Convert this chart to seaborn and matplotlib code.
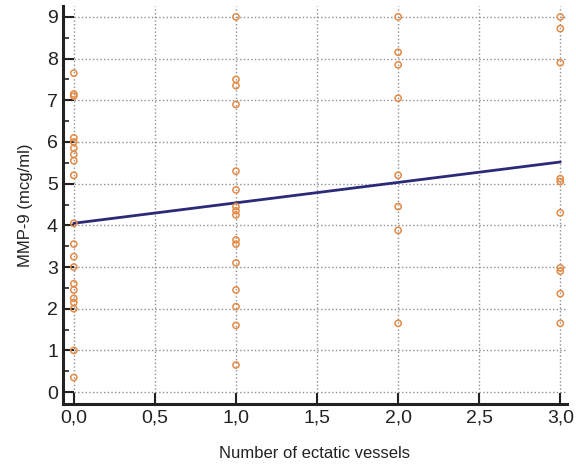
import matplotlib
matplotlib.use("Agg")
import matplotlib.pyplot as plt
import seaborn as sns
import pandas as pd
from matplotlib.ticker import MultipleLocator, FuncFormatter

# MMP-9 readings per number of ectatic vessels
mmp9_v0 = [7.65, 7.15, 7.1, 6.1, 6.0, 5.85, 5.7, 5.55, 5.2, 4.05, 3.55, 3.25,
           3.0, 2.6, 2.45, 2.25, 2.15, 2.0, 1.0, 0.35]
mmp9_v1 = [9.0, 7.5, 7.35, 6.9, 5.3, 4.85, 4.45, 4.35, 4.25, 3.65, 3.55, 3.1,
           2.45, 2.05, 1.6, 0.65]
mmp9_v2 = [9.0, 8.15, 7.85, 7.05, 5.2, 4.45, 3.88, 1.65]
mmp9_v3 = [9.0, 8.72, 7.9, 5.12, 5.05, 4.3, 2.98, 2.9, 2.36, 1.65]

# regression line end points
fit_x = [0.0, 3.0]
fit_y = [4.05, 5.52]

vessels = [0] * len(mmp9_v0) + [1] * len(mmp9_v1) + [2] * len(mmp9_v2) + [3] * len(mmp9_v3)
df = pd.DataFrame({"vessels": vessels, "mmp9": mmp9_v0 + mmp9_v1 + mmp9_v2 + mmp9_v3})
fit = pd.DataFrame({"x": fit_x, "y": fit_y})

sns.set_theme(style="ticks")
plt.rcParams["font.family"] = ["Liberation Sans", "DejaVu Sans"]

fig = plt.figure(figsize=(5.76, 4.70), dpi=100)
ax = fig.add_axes([0.109, 0.140, 0.875, 0.848])

ax.grid(True, which="major", color="#8c8f96", linestyle=":", linewidth=1.0)
ax.set_axisbelow(True)

sns.lineplot(data=fit, x="x", y="y", color="#2a2a78", linewidth=2.0, ax=ax, zorder=3)
sns.scatterplot(data=df, x="vessels", y="mmp9", marker="o", s=20,
                facecolor="none", edgecolor="#e58a45", linewidth=1.1, ax=ax, zorder=4)

ax.set_xlim(-0.068, 3.04)
ax.set_ylim(-0.29, 9.27)
ax.xaxis.set_major_locator(MultipleLocator(0.5))
ax.yaxis.set_major_locator(MultipleLocator(1))
ax.yaxis.set_minor_locator(MultipleLocator(0.5))
ax.xaxis.set_major_formatter(FuncFormatter(lambda v, p: f"{v:.1f}".replace(".", ",")))
ax.yaxis.set_major_formatter(FuncFormatter(lambda v, p: f"{v:.0f}"))

ax.tick_params(axis="both", which="major", direction="in", length=8, width=1.5,
               labelsize=14, color="#222222", labelcolor="#222222")
ax.tick_params(axis="y", which="minor", direction="in", length=4, width=1.2, color="#222222")
ax.xaxis.set_tick_params(which="minor", bottom=False)

for side in ["top", "right"]:
    ax.spines[side].set_visible(False)
for side in ["left", "bottom"]:
    ax.spines[side].set_linewidth(2.2)
    ax.spines[side].set_color("#222222")

ax.set_xlabel("Number of ectatic vessels", fontsize=12, color="#222222", labelpad=14)
ax.set_ylabel("MMP-9 (mcg/ml)", fontsize=12, color="#222222", labelpad=10)

fig.savefig("out.png", dpi=100)
